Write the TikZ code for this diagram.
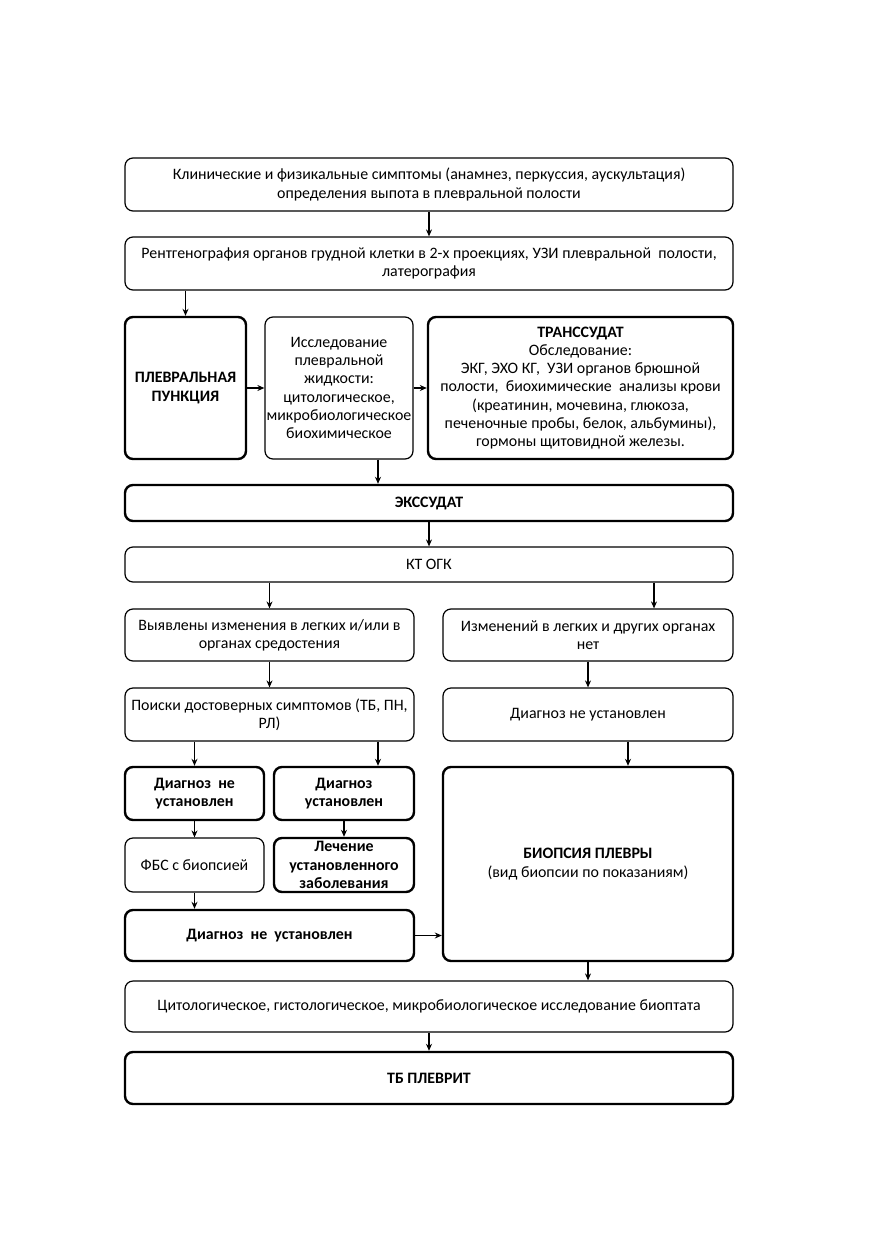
\documentclass[tikz,border=0pt]{standalone}
\usepackage{fontspec}
\setmainfont{Carlito}
\usetikzlibrary{arrows.meta}

\begin{document}
\begin{tikzpicture}[x=1pt, y=-1pt,
	box/.style={draw, rounded corners=8pt, line width=1.2pt, inner sep=0pt, align=center, font=\fontsize{15.9}{18.3}\selectfont},
	thickbox/.style={box, line width=2.4pt},
	boldbox/.style={thickbox, font=\fontsize{15.9}{18.3}\selectfont\bfseries},
	arr/.style={-{Stealth[length=7pt, width=6pt]}, line width=1.1pt}]

	\useasboundingbox (0,0) rectangle (872,1239);

	\node [box, minimum width=608, minimum height=53] (klin) at (429,184.5) {Клинические и физикальные симптомы (анамнез, перкуссия, аускультация)\\определения выпота в плевральной полости};
	\node [box, minimum width=608, minimum height=53] (rentg) at (429,263.5) {Рентгенография органов грудной клетки в 2-х проекциях, УЗИ плевральной~~полости,\\латерография};
	\draw [arr] (klin.south) -- (rentg.north);

	\node [boldbox, minimum width=121, minimum height=142] (punkc) at (185.5,388) {ПЛЕВРАЛЬНАЯ\\ПУНКЦИЯ};
	\node [box, minimum width=148, minimum height=142] (issl) at (339,388) {Исследование\\плевральной\\жидкости:\\цитологическое,\\микробиологическое\\биохимическое};
	\node [thickbox, minimum width=305, minimum height=142] (transs) at (580.5,388) {\textbf{ТРАНССУДАТ}\\Обследование:\\ЭКГ, ЭХО КГ,~~УЗИ органов брюшной\\полости,~~биохимические~~анализы крови\\(креатинин, мочевина, глюкоза,\\печеночные пробы, белок, альбумины),\\гормоны щитовидной железы.};
	\draw [arr] (rentg.south -| punkc.north) -- (punkc.north);
	\draw [arr] (punkc.east) -- (issl.west);
	\draw [arr] (issl.east) -- (transs.west);

	\node [boldbox, minimum width=608, minimum height=36] (exsud) at (429,503) {ЭКССУДАТ};
	\draw [arr] ([xshift=39pt]issl.south) -- ([xshift=39pt]issl.south |- exsud.north);

	\node [box, minimum width=608, minimum height=35] (ktogk) at (429,564.5) {КТ ОГК};
	\draw [arr] (exsud.south) -- (ktogk.north);

	\node [box, minimum width=289, minimum height=52] (vyyav) at (269.5,635) {Выявлены изменения в легких и/или в\\органах средостения};
	\node [box, minimum width=290, minimum height=52] (izmen) at (588,635) {Изменений в легких и других органах\\нет};
	\draw [arr] (ktogk.south -| vyyav.north) -- (vyyav.north);
	\draw [arr] ([xshift=66pt]izmen.north |- ktogk.south) -- ([xshift=66pt]izmen.north);

	\node [box, minimum width=289, minimum height=53] (poisk) at (269.5,714.5) {Поиски достоверных симптомов (ТБ, ПН,\\РЛ)};
	\node [box, minimum width=290, minimum height=53] (dnr) at (588,714.5) {Диагноз не установлен};
	\draw [arr] (vyyav.south) -- (poisk.north);
	\draw [arr] (izmen.south) -- (dnr.north);

	\node [boldbox, minimum width=139, minimum height=53] (dnu) at (194.5,793.5) {Диагноз~~не\\установлен};
	\node [boldbox, minimum width=140, minimum height=53] (du) at (344,793.5) {Диагноз\\установлен};
	\node [thickbox, minimum width=290, minimum height=194] (biops) at (588,864) {\textbf{БИОПСИЯ ПЛЕВРЫ}\\(вид биопсии по показаниям)};
	\draw [arr] (poisk.south -| dnu.north) -- (dnu.north);
	\draw [arr] ([xshift=34pt]du.north |- poisk.south) -- ([xshift=34pt]du.north);
	\draw [arr] ([xshift=40pt]biops.north |- dnr.south) -- ([xshift=40pt]biops.north);

	\node [box, minimum width=139, minimum height=54] (fbs) at (194.5,865) {ФБС с биопсией};
	\node [boldbox, minimum width=140, minimum height=54] (lechen) at (344,865) {Лечение\\установленного\\заболевания};
	\draw [arr] (dnu.south) -- (fbs.north);
	\draw [arr] (du.south) -- (lechen.north);

	\node [boldbox, minimum width=289, minimum height=51] (dnu2) at (269.5,935.5) {Диагноз~~не~~установлен};
	\draw [arr] (fbs.south) -- (fbs.south |- dnu2.north);
	\draw [arr] (dnu2.east) -- (dnu2.east -| biops.west);

	\node [box, minimum width=608, minimum height=51] (cytol) at (429,1006.5) {Цитологическое, гистологическое, микробиологическое исследование биоптата};
	\node [boldbox, minimum width=608, minimum height=52] (tbpl) at (429,1078) {ТБ ПЛЕВРИТ};
	\draw [arr] (biops.south) -- (biops.south |- cytol.north);
	\draw [arr] (cytol.south) -- (tbpl.north);
\end{tikzpicture}
\end{document}
